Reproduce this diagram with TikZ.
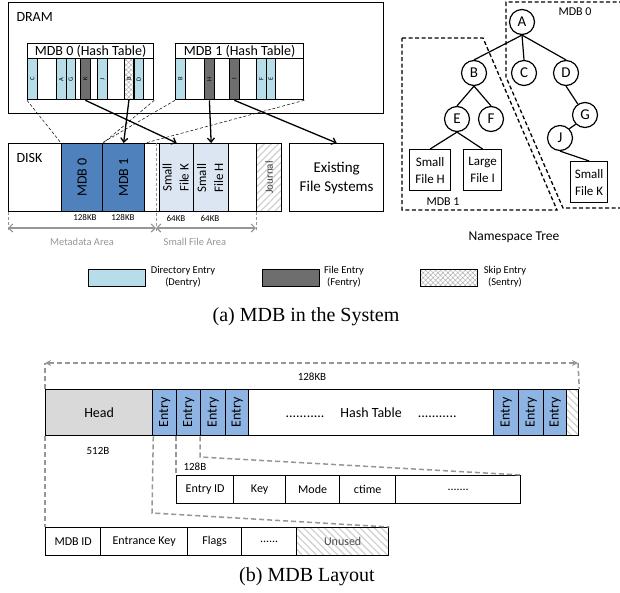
\documentclass[tikz,border=0pt]{standalone}
\usepackage{fontspec}
\setmainfont{Carlito}
\newfontfamily\capfont{Liberation Serif}
\usetikzlibrary{arrows.meta,patterns.meta}

\definecolor{dentblue}{RGB}{183,221,232}
\definecolor{fentgray}{RGB}{110,110,110}
\definecolor{mdbblue}{RGB}{79,129,189}
\definecolor{filelav}{RGB}{220,230,242}
\definecolor{entblue}{RGB}{141,180,226}
\definecolor{headgray}{RGB}{217,217,217}
\definecolor{dimgray}{RGB}{150,150,150}
\newcommand{\pxsize}[1]{\fontsize{#1}{#1}\selectfont}
\newcommand{\vtext}[1]{\rotatebox{90}{\begin{tabular}{@{}l@{}}#1\end{tabular}}}

\begin{document}
\begin{tikzpicture}[x=1pt,y=-1pt,
    box/.style={draw, line width=1.3pt, inner sep=0pt, anchor=north west},
    slot/.style={box, minimum width=9.5pt, minimum height=41pt, font=\pxsize{6.5}},
    dent/.style={slot, fill=dentblue},
    fent/.style={slot, fill=fentgray},
    xhatch/.style={pattern={Hatch[angle=45,distance=3.5pt,line width=0.5pt]}, pattern color=gray!60},
    sent/.style={slot, xhatch},
    legbox/.style={box, minimum width=57pt, minimum height=17pt},
    legtext/.style={align=center, font=\fontsize{10.5}{12}\selectfont},
    blkarrow/.style={line width=1.3pt, -{Straight Barb[length=4pt,width=7pt]}},
    thindash/.style={densely dashed, line width=0.5pt},
    dimtick/.style={draw=dimgray, line width=1pt, dash pattern=on 3pt off 2pt},
    dimarrow/.style={draw=dimgray, line width=1.2pt, {Straight Barb[length=4pt,width=8pt]}-{Straight Barb[length=4pt,width=8pt]}},
    tnode/.style={circle, draw, line width=1.2pt, minimum size=25pt, inner sep=0pt, font=\pxsize{15}},
    tbox/.style={box, line width=1.2pt, align=center, font=\fontsize{13}{17}\selectfont},
    tedge/.style={line width=1.2pt},
    region/.style={line width=1.3pt, dash pattern=on 4pt off 2.5pt},
    ent/.style={box, fill=entblue, minimum width=24pt, minimum height=46pt, font=\pxsize{14}},
    fld/.style={box, minimum height=28pt, font=\pxsize{12}},
    graydash/.style={draw=dimgray, line width=1.5pt, dash pattern=on 5pt off 3pt},
    stripes/.style={pattern={Lines[angle=-45,distance=5pt,line width=1.3pt]}, pattern color=gray!35}]
    \useasboundingbox (0,0) rectangle (620,592);

    % DRAM
    \node[box, minimum width=375pt, minimum height=111pt] (dram) at (8,2) {};
    \node[anchor=west, font=\pxsize{14}] (dramlbl) at (13,17) {DRAM};

    \node[box, minimum width=126pt, minimum height=15pt, font=\pxsize{14}] (ht0) at (27,43) {MDB 0 (Hash Table)};
    \node[box, minimum width=126pt, minimum height=41pt] (hb0) at (27,58) {};
    \node[dent] (c0) at (27,58) {\rotatebox{90}{C}};
    \node[dent] (a0) at (56,58) {\rotatebox{90}{A}};
    \node[dent] (g0) at (65.5,58) {\rotatebox{90}{G}};
    \node[fent] (k0) at (80,58) {\rotatebox{90}{K}};
    \node[dent] (j0) at (97,58) {\rotatebox{90}{J}};
    \node[sent] (b0) at (124,58) {\rotatebox{90}{B}};
    \node[dent] (d0) at (133.5,58) {\rotatebox{90}{D}};

    \node[box, minimum width=128pt, minimum height=15pt, font=\pxsize{14}] (ht1) at (175,43) {MDB 1 (Hash Table)};
    \node[box, minimum width=128pt, minimum height=41pt] (hb1) at (175,58) {};
    \node[dent] (b1) at (175,58) {\rotatebox{90}{B}};
    \node[fent] (h1) at (204,58) {\rotatebox{90}{H}};
    \node[fent] (i1) at (229,58) {\rotatebox{90}{I}};
    \node[dent] (f1) at (256,58) {\rotatebox{90}{F}};
    \node[dent] (e1) at (265.5,58) {\rotatebox{90}{E}};

    % DISK
    \node[box, minimum width=273pt, minimum height=68pt] (disk) at (8,143) {};
    \node[anchor=west, font=\pxsize{14}] (disklbl) at (13,158) {DISK};
    \node[box, fill=mdbblue, minimum width=41pt, minimum height=68pt, font=\pxsize{14}] (dm0) at (61,143) {\rotatebox{90}{MDB 0}};
    \node[box, fill=mdbblue, minimum width=42pt, minimum height=68pt, font=\pxsize{14}] (dm1) at (102,143) {\rotatebox{90}{MDB 1}};
    \node[box, fill=filelav, minimum width=34pt, minimum height=68pt, font=\fontsize{13}{17}\selectfont] (sfk) at (159,143) {\vtext{Small\\File K}};
    \node[box, fill=filelav, minimum width=35pt, minimum height=68pt, font=\fontsize{13}{17}\selectfont] (sfh) at (193,143) {\vtext{Small\\File H}};
    \node[box, pattern={Lines[angle=45,distance=5pt,line width=1.3pt]}, pattern color=gray!35, minimum width=25pt, minimum height=68pt, font=\pxsize{11}, text=black!75] (jnl) at (256,143) {\rotatebox{90}{Journal}};
    \node[box, minimum width=94pt, minimum height=68pt, align=center, font=\fontsize{15}{19}\selectfont] (efs) at (289,143) {Existing\\File Systems};

    \node[font=\pxsize{9}] (sz0) at (85,217) {128KB};
    \node[font=\pxsize{9}] (sz1) at (123,217) {128KB};
    \node[font=\pxsize{9}] (sz2) at (176,218) {64KB};
    \node[font=\pxsize{9}] (sz3) at (210,218) {64KB};

    \coordinate (dtop) at (156,143);
    \coordinate (da) at (8,232);
    \coordinate (db) at (156,232);
    \coordinate (dc) at (256,232);
    \coordinate (ma) at (8,228);
    \coordinate (mb) at (156,228);
    \coordinate (mc) at (256,228);
    \draw[dimtick] (disk.south west) -- (da);
    \draw[dimtick] (dtop) -- (db);
    \draw[dimtick] (jnl.south west) -- (dc);
    \draw[dimarrow] (ma) -- (mb);
    \draw[dimarrow] (mb) -- (mc);
    \node[font=\pxsize{10.5}, text=dimgray] (metalbl) at (82,242) {Metadata Area};
    \node[font=\pxsize{10.5}, text=dimgray] (sflbl) at (195,242) {Small File Area};

    \draw[thindash] (hb0.south west) -- (dm0.north west);
    \draw[thindash] (hb0.south east) -- (dm0.north east);
    \draw[thindash] (hb1.south west) -- (dm1.north west);
    \draw[thindash] (hb1.south east) -- (dm1.north east);

    \draw[blkarrow] (b0.south) -- (dm1.north);
    \draw[blkarrow] (k0.south) -- (sfk.north);
    \draw[blkarrow] (h1.south) -- (sfh.north);
    \draw[blkarrow] (i1.south) -- (efs.north);

    % legend
    \node[legbox, fill=dentblue] (lgd) at (88,269) {};
    \node[legtext] (lgdt) at (183,277) {Directory Entry\\(Dentry)};
    \node[legbox, fill=fentgray] (lgf) at (262,269) {};
    \node[legtext] (lgft) at (344,277) {File Entry\\(Fentry)};
    \node[legbox, xhatch] (lgs) at (420,269) {};
    \node[legtext] (lgst) at (505,277) {Skip Entry\\(Sentry)};

    \node[font=\capfont\pxsize{20}] (capa) at (306,317) {(a) MDB in the System};

    % namespace tree
    \node[tnode] (nA) at (522,22) {A};
    \node[tnode] (nB) at (474,73) {B};
    \node[tnode] (nC) at (524,73) {C};
    \node[tnode] (nD) at (566,73) {D};
    \node[tnode] (nE) at (457,119) {E};
    \node[tnode] (nF) at (491,119) {F};
    \node[tnode] (nG) at (585,115) {G};
    \node[tnode] (nJ) at (560,138) {J};
    \node[tbox, minimum width=41pt, minimum height=41pt] (fH) at (409,149) {Small\\File H};
    \node[tbox, minimum width=38pt, minimum height=41pt] (fI) at (463,149) {Large\\File I};
    \node[tbox, minimum width=37pt, minimum height=41pt] (fK) at (570,161) {Small\\File K};

    \draw[tedge] (nA.south) -- (nB.north);
    \draw[tedge] (nA.south) -- (nC.north);
    \draw[tedge] (nA.south) -- (nD.north);
    \draw[tedge] (nB.south) -- (nE.north);
    \draw[tedge] (nB.south) -- (nF.north);
    \draw[tedge] (nE.south) -- (fH.north);
    \draw[tedge] (nE.south) -- (fI.north);
    \draw[tedge] (nD.south) -- (nG);
    \draw[tedge] (nJ.north east) -- (nG.south west);
    \draw[tedge] (nJ.south) -- (fK.north);

    \coordinate (r0a) at (623,2);
    \coordinate (r0b) at (506,2);
    \coordinate (r0c) at (506,77);
    \coordinate (r0d) at (563,208);
    \coordinate (r0e) at (623,208);
    \draw[region] (r0a) -- (r0b) -- (r0c) -- (r0d) -- (r0e);
    \coordinate (r1a) at (402,38);
    \coordinate (r1b) at (483,38);
    \coordinate (r1c) at (557,210);
    \coordinate (r1d) at (402,210);
    \draw[region] (r1a) -- (r1b) -- (r1c) -- (r1d) -- cycle;
    \node[font=\pxsize{12}] (lbl0) at (575,12) {MDB 0};
    \node[font=\pxsize{12}] (lbl1) at (443,202) {MDB 1};
    \node[font=\pxsize{13.5}] (nstree) at (514,237) {Namespace Tree};

    % MDB layout
    \node[box, fill=headgray, minimum width=107pt, minimum height=46pt, font=\pxsize{14}] (head) at (45,389) {Head};
    \node[ent] (en1) at (152,389) {\rotatebox{90}{Entry}};
    \node[ent] (en2) at (176,389) {\rotatebox{90}{Entry}};
    \node[ent, minimum width=25pt] (en3) at (200,389) {\rotatebox{90}{Entry}};
    \node[ent, minimum width=23pt] (en4) at (225,389) {\rotatebox{90}{Entry}};
    \node[box, minimum width=245pt, minimum height=46pt, font=\pxsize{14}] (htab) at (248,389) {...........\hspace{16pt}Hash Table\hspace{16pt}...........};
    \node[ent, minimum width=25pt] (en5) at (493,389) {\rotatebox{90}{Entry}};
    \node[ent, minimum width=25pt] (en6) at (518,389) {\rotatebox{90}{Entry}};
    \node[ent, minimum width=23pt] (en7) at (543,389) {\rotatebox{90}{Entry}};
    \node[box, stripes, minimum width=12pt, minimum height=46pt] (tail) at (566,389) {};

    \coordinate (tl) at (45,363);
    \coordinate (tr) at (578,363);
    \draw[graydash] (head.north west) -- (tl);
    \draw[graydash, {Stealth[length=6pt,width=6pt]}-{Stealth[length=6pt,width=6pt]}] (tl) -- (tr);
    \draw[graydash] (tr) -- (tail.north east);
    \node[font=\pxsize{11}] (sz128) at (312,377) {128KB};

    \node[font=\pxsize{11}] (sz512) at (98,451) {512B};
    \node[font=\pxsize{11}, anchor=west] (sz128b) at (180,467) {128B};

    \node[fld, minimum width=57pt] (eid) at (176,475) {Entry ID};
    \node[fld, minimum width=52pt] (ekey) at (233,475) {Key};
    \node[fld, minimum width=54pt] (emode) at (285,475) {Mode};
    \node[fld, minimum width=56pt] (ectime) at (339,475) {ctime};
    \node[fld, minimum width=125pt] (erest) at (395,475) {.......};

    \node[fld, minimum width=55pt] (mid) at (45,527) {MDB ID};
    \node[fld, minimum width=87pt] (entk) at (100,527) {Entrance Key};
    \node[fld, minimum width=54pt] (flags) at (187,527) {Flags};
    \node[fld, minimum width=55pt] (hdots) at (241,527) {......};
    \node[fld, stripes, minimum width=92pt, text=black!70] (unused) at (296,527) {Unused};

    \coordinate (hb) at (152,513);
    \coordinate (eb) at (200,457);
    \draw[graydash] (head.south west) -- (mid.north west);
    \draw[graydash] (head.south east) -- (hb) -- (unused.north east);
    \draw[graydash] (en2.south west) -- (eid.north west);
    \draw[graydash] (en3.south west) -- (eb) -- (erest.north east);

    \node[font=\capfont\pxsize{20}] (capb) at (307,577) {(b) MDB Layout};
\end{tikzpicture}
\end{document}
